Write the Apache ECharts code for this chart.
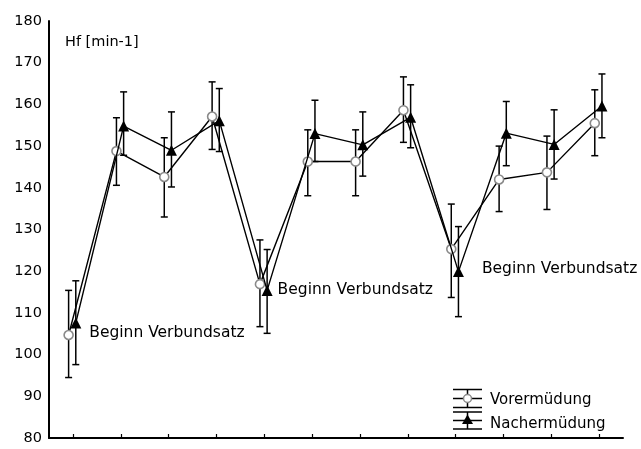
<!DOCTYPE html>
<html>
<head>
<meta charset="utf-8">
<script src="https://cdn.jsdelivr.net/npm/echarts@6/dist/echarts.min.js"></script>
<style>html,body{margin:0;padding:0;background:#fff}#c{width:641px;height:449px}</style>
</head>
<body>
<div id="c"></div>
<script>
var categories = ['1','2','3','4','5','6','7','8','9','10','11','12'];
var seriesNames = ['Vorermüdung', 'Nachermüdung'];
var vorMean = [104.7, 148.8, 142.6, 157.1, 116.9, 146.3, 146.3, 158.6, 125.3, 142.0, 143.7, 155.5];
var vorLow  = [94.5, 140.6, 133.0, 149.2, 106.7, 138.1, 138.1, 150.9, 113.7, 134.3, 134.8, 147.7];
var vorHigh = [115.4, 156.8, 152.0, 165.4, 127.5, 153.9, 153.9, 166.6, 136.1, 150.0, 152.4, 163.5];
var nachMean = [107.6, 154.8, 149.0, 156.1, 115.4, 153.0, 150.3, 156.9, 119.9, 153.1, 150.4, 159.6];
var nachLow  = [97.6, 147.8, 140.2, 148.7, 105.1, 146.3, 142.8, 149.6, 109.1, 145.3, 142.1, 152.0];
var nachHigh = [117.7, 163.0, 158.2, 163.8, 125.2, 161.0, 158.2, 164.7, 130.7, 160.7, 158.7, 167.3];
var yTicks = [80, 90, 100, 110, 120, 130, 140, 150, 160, 170, 180];
var annotText = 'Beginn Verbundsatz';
var annotIndex = [0, 4, 8];

var FONT = 'DejaVu Sans';
var vorShift = -0.09, nachShift = 0.06;
var annotOffsets = [[3, 10], [0, 0], [13, -2.5]];

function pts(mean, shift) {
  return mean.map(function (v, i) { return [i + 1 + shift, v]; });
}
function bars(lo, hi, shift) {
  return lo.map(function (v, i) { return [i + 1 + shift, v, hi[i]]; });
}
function renderErr(params, api) {
  var x = api.value(0);
  var a = api.coord([x, api.value(1)]);
  var b = api.coord([x, api.value(2)]);
  var w = 3.5;
  var st = { stroke: '#000', lineWidth: 1.5 };
  return {
    type: 'group',
    children: [
      { type: 'line', shape: { x1: a[0], y1: a[1], x2: b[0], y2: b[1] }, style: st },
      { type: 'line', shape: { x1: a[0] - w, y1: a[1], x2: a[0] + w, y2: a[1] }, style: st },
      { type: 'line', shape: { x1: b[0] - w, y1: b[1], x2: b[0] + w, y2: b[1] }, style: st }
    ]
  };
}

var nachData = pts(nachMean, nachShift).map(function (p, i) {
  var k = annotIndex.indexOf(i);
  if (k < 0) return p;
  return {
    value: p,
    label: {
      show: true, position: 'right', offset: annotOffsets[k],
      formatter: annotText, color: '#000', fontFamily: FONT, fontSize: 15.5
    }
  };
});

var chart = echarts.init(document.getElementById('c'), null, { renderer: 'canvas' });
chart.setOption({
  animation: false,
  backgroundColor: '#fff',
  title: {
    text: 'Hf [min-1]', left: 60, top: 30,
    textStyle: { fontFamily: FONT, fontSize: 14.5, fontWeight: 'normal', color: '#000' }
  },
  grid: { left: 49, right: 18, top: 21, bottom: 11, containLabel: false },
  legend: {
    orient: 'vertical', left: 453, top: 384, itemWidth: 26, itemHeight: 20, itemGap: 2.7,
    icon: 'rect', itemStyle: { opacity: 0 },
    data: seriesNames,
    textStyle: { fontFamily: FONT, fontSize: 15, color: '#000' }
  },
  xAxis: [
    {
      type: 'category', data: categories, boundaryGap: true,
      axisLine: { lineStyle: { color: '#000', width: 2 } },
      axisTick: { show: true, alignWithLabel: true, inside: true, length: 4, lineStyle: { color: '#000', width: 1.2 } },
      axisLabel: { show: false }, splitLine: { show: false }
    },
    { type: 'value', min: 0.5, max: 12.5, show: false, splitLine: { show: false } }
  ],
  yAxis: {
    type: 'value', min: yTicks[0], max: yTicks[yTicks.length - 1], interval: 10,
    axisLine: { show: true, lineStyle: { color: '#000', width: 2 } },
    axisTick: { show: false }, splitLine: { show: false },
    axisLabel: { color: '#000', fontFamily: FONT, fontSize: 14.5, margin: 7 }
  },
  graphic: [
    { type: 'group', children: [
      { type: 'line', shape: { x1: 453, y1: 389.5, x2: 482, y2: 389.5 }, style: { stroke: '#000', lineWidth: 1.5 } },
      { type: 'line', shape: { x1: 453, y1: 398.5, x2: 482, y2: 398.5 }, style: { stroke: '#000', lineWidth: 1.5 } },
      { type: 'line', shape: { x1: 453, y1: 407.5, x2: 482, y2: 407.5 }, style: { stroke: '#000', lineWidth: 1.5 } },
      { type: 'line', shape: { x1: 467.5, y1: 389.5, x2: 467.5, y2: 407.5 }, style: { stroke: '#000', lineWidth: 1.5 } },
      { type: 'circle', shape: { cx: 467.5, cy: 398.5, r: 4 }, style: { fill: '#fff', stroke: '#8a8a8a', lineWidth: 1.5 } },
      { type: 'line', shape: { x1: 453, y1: 412, x2: 482, y2: 412 }, style: { stroke: '#000', lineWidth: 1.5 } },
      { type: 'line', shape: { x1: 453, y1: 420.5, x2: 482, y2: 420.5 }, style: { stroke: '#000', lineWidth: 1.5 } },
      { type: 'line', shape: { x1: 453, y1: 429, x2: 482, y2: 429 }, style: { stroke: '#000', lineWidth: 1.5 } },
      { type: 'line', shape: { x1: 467.5, y1: 412, x2: 467.5, y2: 429 }, style: { stroke: '#000', lineWidth: 1.5 } },
      { type: 'polygon', shape: { points: [[467.5, 414.5], [473, 424], [462, 424]] }, style: { fill: '#000' } }
    ] }
  ],
  series: [
    {
      type: 'custom', name: 'errVor', xAxisIndex: 1, yAxisIndex: 0, z: 1,
      renderItem: renderErr, data: bars(vorLow, vorHigh, vorShift), silent: true
    },
    {
      type: 'custom', name: 'errNach', xAxisIndex: 1, yAxisIndex: 0, z: 1,
      renderItem: renderErr, data: bars(nachLow, nachHigh, nachShift), silent: true
    },
    {
      type: 'line', name: seriesNames[0], xAxisIndex: 1, yAxisIndex: 0, z: 3,
      data: pts(vorMean, vorShift),
      symbol: 'circle', symbolSize: 9, showAllSymbol: true,
      lineStyle: { color: '#000', width: 1.4 },
      itemStyle: { color: '#fff', borderColor: '#8a8a8a', borderWidth: 1.6 }
    },
    {
      type: 'line', name: seriesNames[1], xAxisIndex: 1, yAxisIndex: 0, z: 4,
      data: nachData,
      symbol: 'triangle', symbolSize: 11, showAllSymbol: true,
      lineStyle: { color: '#000', width: 1.4 },
      itemStyle: { color: '#000', borderColor: '#000', borderWidth: 0 }
    }
  ]
});
</script>
</body>
</html>
